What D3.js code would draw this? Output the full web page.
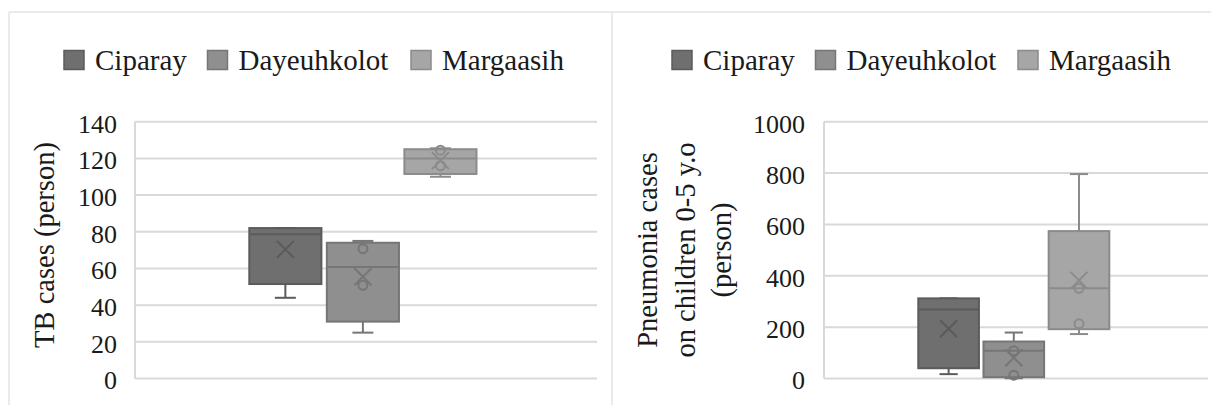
<!DOCTYPE html>
<html>
<head>
<meta charset="utf-8">
<script src="https://cdn.jsdelivr.net/npm/d3@7"></script>
<style>
  html, body { margin: 0; padding: 0; background: #fff; }
  svg { display: block; }
  text { font-family: "Liberation Serif", "Times New Roman", serif; fill: #1a1a1a; }
</style>
</head>
<body>
<svg id="chart" width="1211" height="405"></svg>
<script>
// ---------- data ----------
const categories = ["Ciparay", "Dayeuhkolot", "Margaasih"];

// TB cases (person)
const tbMin    = [44, 25, 110];
const tbQ1     = [51.5, 31, 111.5];
const tbMedian = [78.7, 60.8, 120];
const tbQ3     = [82, 74, 125];
const tbMax    = [82, 75, 125.5];
const tbMean   = [70.4, 55.5, 118.8];
const tbPoints = [[], [70.8, 50.8], [124.5, 116]];
const tbTicks  = [0, 20, 40, 60, 80, 100, 120, 140];

// Pneumonia cases on children 0-5 y.o (person)
const pnMin    = [17, 1, 173];
const pnQ1     = [40, 5, 192];
const pnMedian = [269, 108, 351];
const pnQ3     = [312, 144, 574];
const pnMax    = [312, 179, 796];
const pnMean   = [194, 81, 382];
const pnPoints = [[], [108, 13], [351, 213]];
const pnTicks  = [0, 200, 400, 600, 800, 1000];

const fills   = ["#6f6f6f", "#8f8f8f", "#a6a6a6"];
const strokes = ["#5b5b5b", "#767676", "#8b8b8b"];

// ---------- drawing ----------
const svg = d3.select("#chart");
const grid = "#d9d9d9";

// panel frames
svg.append("line").attr("x1", 9).attr("x2", 1211).attr("y1", 12).attr("y2", 12)
  .attr("stroke", "#e3e3e3").attr("stroke-width", 1.5);
svg.append("line").attr("x1", 9).attr("x2", 9).attr("y1", 12).attr("y2", 405)
  .attr("stroke", "#e3e3e3").attr("stroke-width", 1.5);
svg.append("line").attr("x1", 612).attr("x2", 612).attr("y1", 12).attr("y2", 405)
  .attr("stroke", "#e3e3e3").attr("stroke-width", 1.5);

function panel(opts) {
  const g = svg.append("g");
  const y = d3.scaleLinear().domain([0, opts.ticks[opts.ticks.length - 1]])
    .range([378.5, 121.7]);
  const x = d3.scaleBand().domain(categories)
    .range(opts.boxRange).paddingInner(0.07).paddingOuter(0);

  // gridlines
  g.append("g").selectAll("line").data(opts.ticks).join("line")
    .attr("x1", opts.plotX[0]).attr("x2", opts.plotX[1])
    .attr("y1", d => y(d)).attr("y2", d => y(d))
    .attr("stroke", grid).attr("stroke-width", 2);
  // vertical axis line
  g.append("line").attr("x1", opts.plotX[0]).attr("x2", opts.plotX[0])
    .attr("y1", y(opts.ticks[opts.ticks.length - 1])).attr("y2", y(0))
    .attr("stroke", grid).attr("stroke-width", 2);

  // tick labels via d3 axis
  const axis = d3.axisLeft(y).tickValues(opts.ticks).tickSize(0).tickPadding(0)
    .tickFormat(d3.format("d"));
  const ag = g.append("g").attr("transform", `translate(${opts.labelX},2)`).call(axis);
  ag.select(".domain").remove();
  ag.selectAll("text").style("font-family", "Liberation Serif, serif")
    .style("font-size", "26px").attr("fill", "#1a1a1a");

  // y title
  opts.title.forEach((t, i) => {
    g.append("text")
      .attr("transform", `translate(${opts.titleX[i]},${opts.titleY}) rotate(-90)`)
      .attr("text-anchor", "middle").attr("dominant-baseline", "central")
      .style("font-size", "28.5px").text(t);
  });

  // legend
  categories.forEach((c, i) => {
    const lx = opts.legendX[i];
    g.append("rect").attr("x", lx).attr("y", 50.5).attr("width", 20).attr("height", 19)
      .attr("fill", fills[i]).attr("stroke", strokes[i]).attr("stroke-width", 1.5);
    g.append("text").attr("x", lx + 31).attr("y", 70)
      .style("font-size", "29px").text(c);
  });

  // boxes
  const bw = x.bandwidth();
  const capW = Math.min(21, bw * 0.3);
  categories.forEach((c, i) => {
    const cx = x(c) + bw / 2;
    const col = strokes[i];
    const b = g.append("g");
    // whiskers
    b.append("line").attr("x1", cx).attr("x2", cx)
      .attr("y1", y(opts.q3[i])).attr("y2", y(opts.max[i]))
      .attr("stroke", col).attr("stroke-width", 2);
    b.append("line").attr("x1", cx).attr("x2", cx)
      .attr("y1", y(opts.q1[i])).attr("y2", y(opts.min[i]))
      .attr("stroke", col).attr("stroke-width", 2);
    b.append("line").attr("x1", cx - capW / 2).attr("x2", cx + capW / 2)
      .attr("y1", y(opts.max[i])).attr("y2", y(opts.max[i]))
      .attr("stroke", col).attr("stroke-width", 2);
    b.append("line").attr("x1", cx - capW / 2).attr("x2", cx + capW / 2)
      .attr("y1", y(opts.min[i])).attr("y2", y(opts.min[i]))
      .attr("stroke", col).attr("stroke-width", 2);
    // box
    b.append("rect").attr("x", x(c)).attr("width", bw)
      .attr("y", y(opts.q3[i])).attr("height", y(opts.q1[i]) - y(opts.q3[i]))
      .attr("fill", fills[i]).attr("stroke", col).attr("stroke-width", 2);
    // median
    b.append("line").attr("x1", x(c)).attr("x2", x(c) + bw)
      .attr("y1", y(opts.median[i])).attr("y2", y(opts.median[i]))
      .attr("stroke", col).attr("stroke-width", 2);
    // inner points
    b.selectAll("circle").data(opts.points[i]).join("circle")
      .attr("cx", cx).attr("cy", d => y(d)).attr("r", 4.5)
      .attr("fill", "none").attr("stroke", col).attr("stroke-width", 2);
    // mean marker
    const my = y(opts.mean[i]), s = 8.5;
    b.append("path")
      .attr("d", `M${cx - s},${my - s}L${cx + s},${my + s}M${cx - s},${my + s}L${cx + s},${my - s}`)
      .attr("stroke", col).attr("stroke-width", 2).attr("fill", "none");
  });
}

panel({
  ticks: tbTicks, plotX: [135, 597], boxRange: [249.3, 398 + 78.5], labelX: 117,
  title: ["TB cases (person)"], titleX: [44], titleY: 245,
  legendX: [64, 207.5, 411],
  min: tbMin, q1: tbQ1, median: tbMedian, q3: tbQ3, max: tbMax, mean: tbMean, points: tbPoints
});

panel({
  ticks: pnTicks, plotX: [824, 1208], boxRange: [918.3, 1109.3], labelX: 805,
  title: ["Pneumonia cases", "on children 0-5 y.o", "(person)"], titleX: [647, 685, 721], titleY: 250,
  legendX: [672, 815.5, 1018],
  min: pnMin, q1: pnQ1, median: pnMedian, q3: pnQ3, max: pnMax, mean: pnMean, points: pnPoints
});
</script>
</body>
</html>
